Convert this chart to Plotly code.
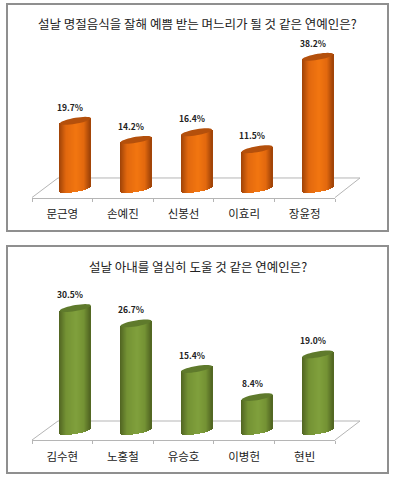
import math
import plotly.graph_objects as go

names_top = ["문근영", "손예진", "신봉선", "이효리", "장윤정"]
values_top = [19.7, 14.2, 16.4, 11.5, 38.2]
title_top = "설날 명절음식을 잘해 예쁨 받는 며느리가 될 것 같은 연예인은?"
names_bot = ["김수현", "노홍철", "유승호", "이병헌", "현빈"]
values_bot = [30.5, 26.7, 15.4, 8.4, 19.0]
title_bot = "설날 아내를 열심히 도울 것 같은 연예인은?"

W, H = 394, 480
FONT = "Noto Sans CJK KR"
AX_L, AX_R = 32, 335          # front floor edge, pixels
UNIT = (AX_R - AX_L) / 5
BAR_SHIFT = 13 / UNIT         # bars stand in the middle of the floor depth
HALF = 15.5                   # cylinder half-width px
RY = 3.0                      # ellipse half-height px
SHEAR = 2.6                   # rise of the right rim px
N_STRIP = 31


def mix(a, b, t):
    return tuple(a[i] + (b[i] - a[i]) * t for i in range(3))


def css(c):
    return "rgb(%d,%d,%d)" % tuple(round(v) for v in c)


def shade(u, dark, mid, light):
    # u in -1..1 across the cylinder; broad bright band, dark only at the rims
    if u < -0.55:
        return mix(dark, mid, (u + 1) / 0.45)
    if u < 0.1:
        return mix(mid, light, (u + 0.55) / 0.65)
    if u < 0.6:
        return mix(light, mid, (u - 0.1) / 0.5)
    return mix(mid, dark, (u - 0.6) / 0.4)


fig = go.Figure()
shapes, annotations = [], []


def panel(idx, names, values, title, y_floor, y_front, y_back, px_per, y_top,
          frame, title_y, label_y, label_shift, colors, cap):
    xa = "x" if idx == 0 else "x2"
    ya = "y" if idx == 0 else "y2"
    dark, mid, light = colors
    xs = [i + BAR_SHIFT for i in range(len(values))]
    dx = HALF / UNIT
    for s in range(N_STRIP):
        u0, u1 = -1 + 2 * s / N_STRIP, -1 + 2 * (s + 1) / N_STRIP
        u = (u0 + u1) / 2
        low = (-RY * math.sqrt(1 - u * u) + SHEAR * u) / px_per
        rise = SHEAR * u / px_per
        fig.add_trace(go.Bar(
            x=xs, y=[v + rise - low for v in values], base=[low] * len(values),
            width=[(u1 - u0) * dx + 0.002] * len(values),
            offset=[u0 * dx] * len(values),
            marker=dict(color=css(shade(u, dark, mid, light)), line_width=0),
            xaxis=xa, yaxis=ya, showlegend=False, hoverinfo="skip"))
    for x, v in zip(xs, values):
        pts = []
        for k in range(37):
            t = 2 * math.pi * k / 36
            cu, su = math.cos(t), math.sin(t)
            pts.append((x + dx * cu, v + (RY * su + SHEAR * cu) / px_per))
        path = "M" + "L".join(f"{a:.4f},{b:.4f}" for a, b in pts) + "Z"
        shapes.append(dict(type="path", path=path, xref=xa, yref=ya,
                           fillcolor=cap, line=dict(width=0), layer="above"))
        annotations.append(dict(x=x, y=v, xref=xa, yref=ya, text=f"<b>{v:.1f}%</b>",
                                showarrow=False, xshift=-5, yshift=label_shift,
                                yanchor="middle",
                                font=dict(family=FONT, size=8.5, color="#222222")))
    # frame
    shapes.append(dict(type="rect", xref="paper", yref="paper",
                       x0=frame[0] / W, x1=frame[1] / W,
                       y0=1 - frame[3] / H, y1=1 - frame[2] / H,
                       line=dict(color="#8f8f8f", width=2), layer="below"))
    # floor
    floor = [(AX_L, y_front), (AX_L + 26, y_back), (AX_R + 25, y_back), (AX_R, y_front)]
    path = "M" + "L".join(f"{a / W:.4f},{1 - b / H:.4f}" for a, b in floor)
    shapes.append(dict(type="path", path=path, xref="paper", yref="paper",
                       line=dict(color="#b5b5b5", width=1), layer="below"))
    annotations.append(dict(x=(frame[0] + frame[1]) / 2 / W, y=1 - title_y / H,
                            xref="paper", yref="paper", text=title, showarrow=False,
                            yanchor="middle",
                            font=dict(family=FONT, size=12.5, color="#222222")))
    # axes
    low_val = -(y_front - y_floor) / px_per
    high_val = (y_floor - y_top) / px_per
    domain_y = [1 - y_front / H, 1 - y_top / H]
    key = "" if idx == 0 else "2"
    fig.update_layout({
        "xaxis" + key: dict(
            domain=[AX_L / W, AX_R / W], range=[-0.5, 4.5],
            tickmode="array", tickvals=list(range(5)), ticktext=names, ticks="",
            ticklabelstandoff=label_y, showgrid=False, zeroline=False,
            showline=True, linecolor="#b5b5b5", linewidth=1, anchor=ya,
            tickfont=dict(family=FONT, size=11.5, color="#222222"),
            minor=dict(tickmode="array", tickvals=[i - 0.5 for i in range(6)],
                       ticks="outside", ticklen=3, tickcolor="#b5b5b5",
                       tickwidth=1, showgrid=False)),
        "yaxis" + key: dict(domain=domain_y, range=[low_val, high_val], visible=False,
                            anchor=xa),
    })


ORANGE = ((158, 66, 8), (226, 104, 14), (242, 118, 16))
GREEN = ((80, 100, 34), (116, 146, 52), (128, 160, 60))
panel(0, names_top, values_top, title_top, 189, 197.5, 178, 3.46, 30,
      (7, 388, 4, 231), 23, 6, 14, ORANGE, "#b4500c")
panel(1, names_bot, values_bot, title_bot, 431, 440, 421, 4.03, 280,
      (7, 388, 246, 473), 266, 6, 14, GREEN, "#5f7a2c")

fig.update_layout(
    width=W, height=H, margin=dict(l=0, r=0, t=0, b=0), autosize=False,
    barmode="overlay", bargap=0, paper_bgcolor="white", plot_bgcolor="rgba(0,0,0,0)",
    shapes=shapes, annotations=annotations, showlegend=False,
)
fig.write_html("out.html", config={"displayModeBar": False},
               post_script="document.body.style.margin='0';")
